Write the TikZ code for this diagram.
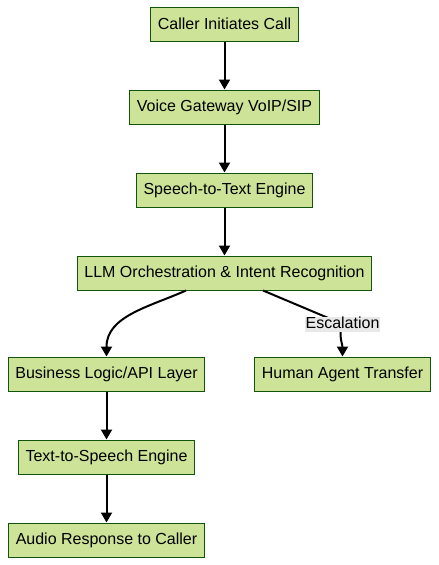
\documentclass[tikz,border=0pt]{standalone}
\usepackage{fontspec}
\setmainfont{Liberation Sans}
\usepackage{tikz}
\usetikzlibrary{arrows.meta,positioning}
\definecolor{stepfill}{HTML}{CDE498}
\definecolor{stepline}{HTML}{13540C}
\definecolor{labelbg}{HTML}{E8E8E8}

\begin{document}
\begin{tikzpicture}[->,>={Triangle[width=11pt,length=10pt]},line width=2pt,
                    node distance=83pt]
  \tikzstyle{stage}=[rectangle,draw=stepline,line width=1pt,fill=stepfill,
                     text=black,font=\fontsize{16}{19}\selectfont,
                     minimum height=34pt,inner xsep=7pt]
  \tikzstyle{esc}=[fill=labelbg,text=black,font=\fontsize{16}{19}\selectfont,
                   inner xsep=0.5pt,inner ysep=0pt,text height=11.5pt,text depth=3.5pt]

  \useasboundingbox (0,0) rectangle (439pt,-565pt);

  \node[stage] (C1) at (224.5pt,-24pt) {Caller Initiates Call};
  \node[stage] (C2) [below of=C1]      {Voice Gateway VoIP/SIP};
  \node[stage] (C3) [below of=C2]      {Speech-to-Text Engine};
  \node[stage] (C4) [below of=C3]      {LLM Orchestration \& Intent Recognition};
  \node[stage] (C5) [below of=C4,node distance=101pt,xshift=-118pt] {Business Logic/API Layer};
  \node[stage] (C6) [below of=C4,node distance=101pt,xshift=118pt]  {Human Agent Transfer};
  \node[stage] (C7) [below of=C5]      {Text-to-Speech Engine};
  \node[stage] (C8) [below of=C7]      {Audio Response to Caller};
  \node[coordinate] (E) [above of=C6,node distance=50pt] {};

  \path
(C1) edge (C2)
(C2) edge (C3)
(C3) edge (C4)
([xshift=-38.5pt]C4.south) edge [out=-156,in=90] (C5.north)
(C5) edge (C7)
(C7) edge (C8);
  \draw ([xshift=38.5pt]C4.south) -- (E) to[out=-110,in=90] (C6.north);
  \node[esc] (EscLbl) at (E) {Escalation};
\end{tikzpicture}
\end{document}
